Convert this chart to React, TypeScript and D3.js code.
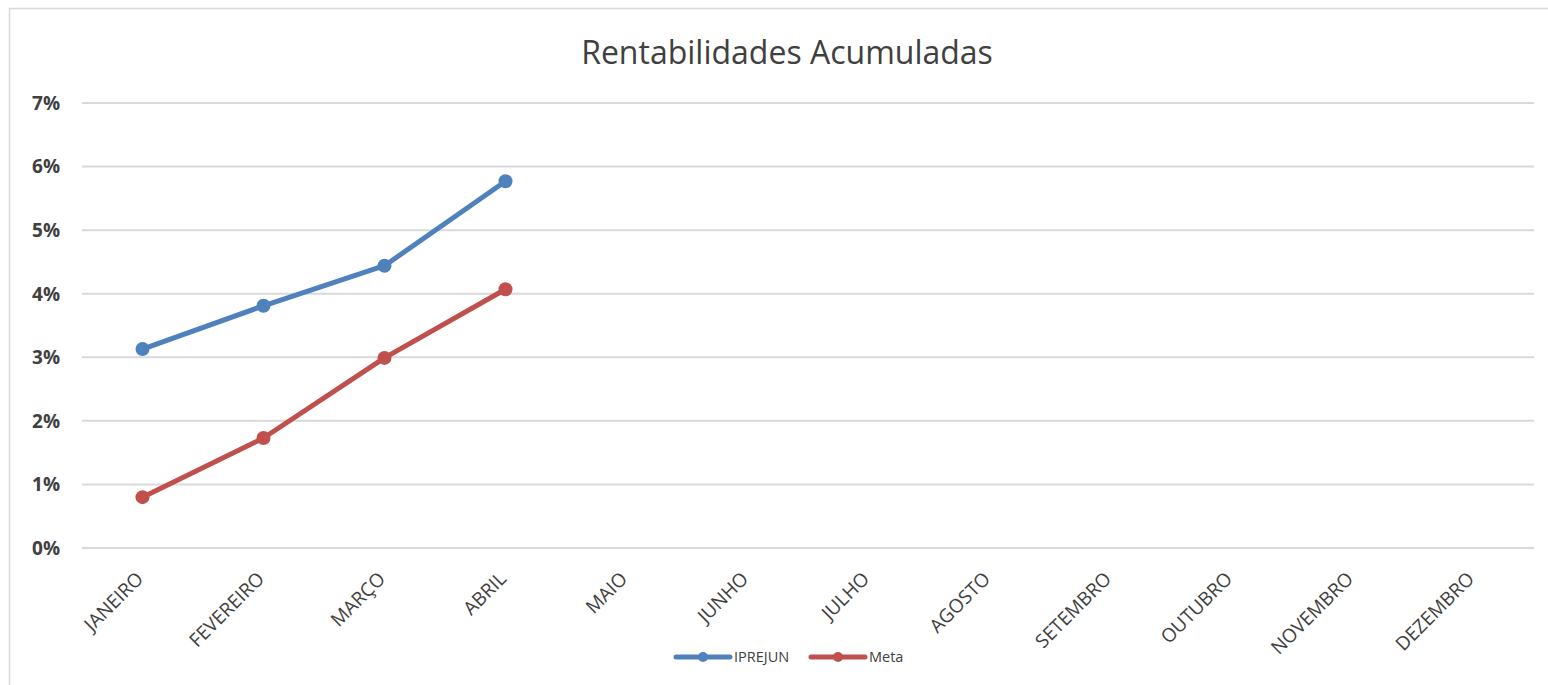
import * as d3 from "d3";

const months = [
  "JANEIRO", "FEVEREIRO", "MARÇO", "ABRIL", "MAIO", "JUNHO",
  "JULHO", "AGOSTO", "SETEMBRO", "OUTUBRO", "NOVEMBRO", "DEZEMBRO",
];
const iprejun = [3.13, 3.81, 4.44, 5.77];
const meta = [0.8, 1.73, 2.99, 4.07];
const yTicks = [0, 1, 2, 3, 4, 5, 6, 7];

const series = [
  { name: "IPREJUN", values: iprejun, color: "#4f81bd" },
  { name: "Meta", values: meta, color: "#c0504d" },
];

const W = 1548;
const H = 685;
const left = 82;
const right = 1534;
const top = 103;
const bottom = 548;
const font = "'Open Sans', 'DejaVu Sans', sans-serif";

export default function App() {
  const x = d3.scalePoint<string>().domain(months).range([left, right]).padding(0.5);
  const y = d3.scaleLinear().domain([0, 7]).range([bottom, top]);
  const line = d3
    .line<number>()
    .x((_, i) => x(months[i]) ?? 0)
    .y((d) => y(d));

  return (
    <div style={{ position: "absolute", left: 0, top: 0 }}>
      <svg width={W} height={H} style={{ display: "block", background: "#fff" }}>
        <rect x={9.5} y={8.5} width={W + 10} height={H + 10} fill="none" stroke="#d9d9d9" strokeWidth={1.5} />
        <text x={787} y={64} textAnchor="middle" fontFamily={font} fontSize={32} fill="#404040">
          Rentabilidades Acumuladas
        </text>

        {/* grade e eixo Y */}
        {yTicks.map((t) => (
          <g key={t}>
            <line x1={left} x2={right} y1={y(t)} y2={y(t)} stroke="#d9d9d9" strokeWidth={2} />
            <text
              x={60}
              y={y(t)}
              dy="0.36em"
              textAnchor="end"
              fontFamily={font}
              fontSize={19}
              fontWeight="bold"
              fill="#404040"
            >
              {t}%
            </text>
          </g>
        ))}

        {/* rótulos do eixo X */}
        {months.map((m) => {
          const px = (x(m) ?? 0) + 2;
          const py = 580;
          return (
            <text
              key={m}
              x={px}
              y={py}
              textAnchor="end"
              transform={`rotate(-45 ${px} ${py})`}
              fontFamily={font}
              fontSize={19}
              fill="#404040"
            >
              {m}
            </text>
          );
        })}

        {/* séries */}
        {series.map((s) => (
          <g key={s.name}>
            <path d={line(s.values) ?? ""} fill="none" stroke={s.color} strokeWidth={5} strokeLinejoin="round" />
            {s.values.map((v, i) => (
              <circle key={i} cx={x(months[i])} cy={y(v)} r={7} fill={s.color} />
            ))}
          </g>
        ))}

        {/* legenda */}
        {series.map((s, i) => {
          const lx = i === 0 ? 676 : 811;
          const ly = 657;
          return (
            <g key={s.name}>
              <line x1={lx} x2={lx + 54} y1={ly} y2={ly} stroke={s.color} strokeWidth={5} strokeLinecap="round" />
              <circle cx={lx + 27} cy={ly} r={5} fill={s.color} />
              <text x={lx + 58} y={ly} dy="0.35em" fontFamily={font} fontSize={14.5} fill="#404040">
                {s.name}
              </text>
            </g>
          );
        })}
      </svg>
    </div>
  );
}
